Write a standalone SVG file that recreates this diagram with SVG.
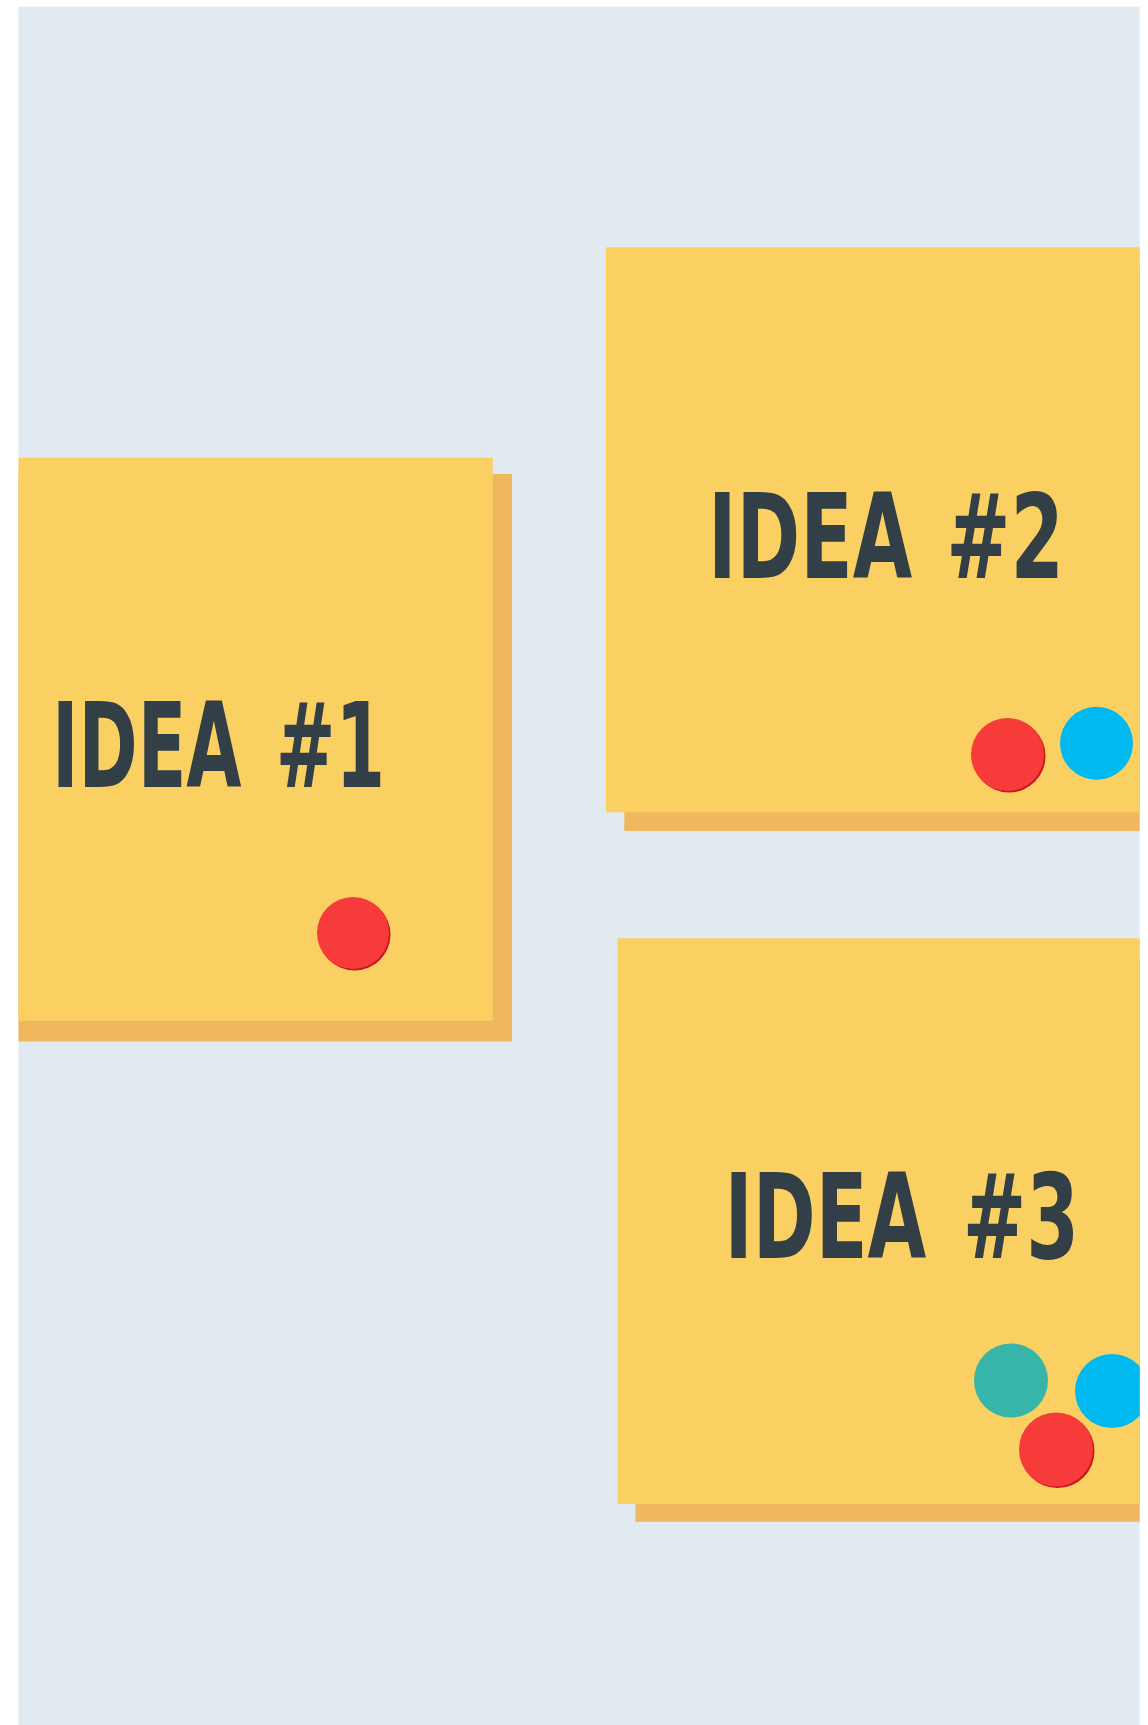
<svg xmlns="http://www.w3.org/2000/svg" width="1148" height="1725" viewBox="0 0 1148 1725">
  <style>
    .note { fill: #FAD062; }
    .shadow { fill: #F0B85D; }
    .label { font-family: "DejaVu Sans Condensed", "DejaVu Sans", sans-serif; font-weight: bold; font-size: 117px; fill: #323F47; }
    .red { fill: #F73B3A; }
    .redEdge { fill: #C9161C; }
    .blue { fill: #00B9F1; }
    .teal { fill: #37B5A9; }
  </style>
  <defs>
    <clipPath id="board">
      <rect x="18.5" y="6.7" width="1121.2" height="1718.3"/>
    </clipPath>
  </defs>
  <rect width="1148" height="1725" fill="#FFFFFF"/>
  <rect x="18.5" y="6.7" width="1121.2" height="1718.3" fill="#E1EAF0"/>

  <g id="note1">
    <rect class="shadow" x="18.5" y="474" width="493.5" height="567.5"/>
    <rect class="note" x="18.5" y="457.7" width="474.2" height="563"/>
    <text class="label" transform="translate(52 787) scale(0.677 1)" x="0" y="0" word-spacing="14" textLength="492" lengthAdjust="spacingAndGlyphs">IDEA #1</text>
    <circle class="redEdge" cx="354.5" cy="934.5" r="36"/>
    <circle class="red" cx="353" cy="933" r="36"/>
  </g>

  <g id="note2">
    <rect class="shadow" x="624.3" y="266" width="515.4" height="565"/>
    <rect class="note" x="606" y="247.3" width="533.7" height="565"/>
    <text class="label" transform="translate(708 578) scale(0.73 1)" x="0" y="0" word-spacing="10" textLength="487.7" lengthAdjust="spacingAndGlyphs">IDEA #2</text>
    <circle class="redEdge" cx="1009" cy="756" r="36.5"/>
    <circle class="red" cx="1007.5" cy="754.5" r="36.5"/>
    <circle class="blue" cx="1096.5" cy="743.3" r="36.5"/>
  </g>

  <g id="note3">
    <rect class="shadow" x="635.5" y="956.5" width="504.2" height="565.3"/>
    <rect class="note" x="617.5" y="938.3" width="522.2" height="565.7"/>
    <text class="label" transform="translate(724.5 1258) scale(0.7205 1)" x="0" y="0" word-spacing="14" textLength="492" lengthAdjust="spacingAndGlyphs">IDEA #3</text>
    <circle class="teal" cx="1011" cy="1380.5" r="37"/>
    <circle class="blue" cx="1112" cy="1391" r="37" clip-path="url(#board)"/>
    <circle class="redEdge" cx="1057.5" cy="1451" r="37"/>
    <circle class="red" cx="1056" cy="1449.5" r="37"/>
  </g>

  <g id="connectors"/>
</svg>
